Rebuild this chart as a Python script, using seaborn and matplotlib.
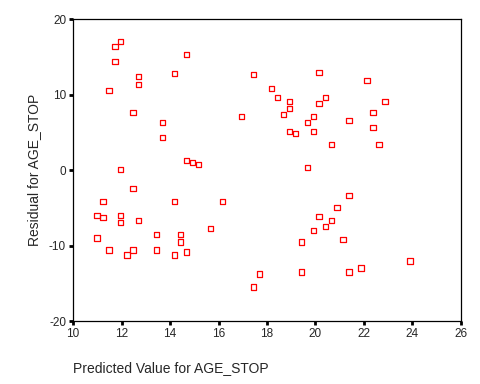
import matplotlib

matplotlib.use("Agg")

import matplotlib.pyplot as plt
import pandas as pd
import seaborn as sns

# predicted values and residuals
predicted = [
    11.73, 11.97, 11.73, 12.71, 12.71, 11.48, 14.19, 14.69, 12.47, 13.70,
    13.70, 14.69, 14.93, 15.18, 11.97, 12.47, 11.23, 14.19, 10.99, 11.23,
    11.97, 11.97, 12.71, 15.67, 10.99, 13.45, 14.44, 14.44, 11.48, 12.47,
    13.45, 14.69, 12.22, 14.19,
    17.44, 20.15, 18.18, 18.43, 18.92, 20.40, 20.15, 18.92, 18.67, 16.95,
    19.91, 19.66, 18.92, 19.17, 19.91, 20.65, 19.66, 22.12, 22.86, 22.37,
    21.38, 22.37, 22.62, 16.17, 20.15, 20.89, 20.65, 20.40, 19.91, 19.41,
    19.41, 17.69, 17.44, 21.38, 21.14, 23.89, 21.88, 21.38,
]
residual = [
    16.39, 17.05, 14.40, 12.40, 11.34, 10.54, 12.80, 15.33, 7.62, 6.29,
    4.30, 1.25, 0.98, 0.72, 0.05, -2.47, -4.20, -4.20, -6.06, -6.32,
    -6.06, -6.99, -6.72, -7.78, -8.98, -8.58, -8.58, -9.51, -10.57, -10.57,
    -10.57, -10.84, -11.24, -11.24,
    12.67, 12.93, 10.81, 9.61, 9.08, 9.61, 8.82, 8.15, 7.36, 7.09,
    7.09, 6.29, 5.10, 4.83, 5.10, 3.37, 0.32, 11.87, 9.08, 7.62,
    6.56, 5.63, 3.37, -4.20, -6.19, -4.99, -6.72, -7.52, -8.05, -9.51,
    -13.49, -13.76, -15.48, -3.40, -9.24, -12.03, -12.96, -13.49,
]

x_ticks = [10, 12, 14, 16, 18, 20, 22, 24, 26]
y_ticks = [-20, -10, 0, 10, 20]

df = pd.DataFrame({"predicted": predicted, "residual": residual})

sns.set_style("white")
plt.rcParams["font.family"] = ["Liberation Sans", "DejaVu Sans"]
plt.rcParams["axes.unicode_minus"] = False

fig = plt.figure(figsize=(4.8, 3.84), dpi=100)
ax = fig.add_axes([0.1521, 0.164, 0.8083, 0.7865])

sns.scatterplot(
    data=df,
    x="predicted",
    y="residual",
    marker="s",
    s=15,
    facecolor="none",
    edgecolor="#ff0000",
    linewidth=0.9,
    ax=ax,
)

ax.set_xlim(10, 26)
ax.set_ylim(-20, 20)
ax.set_xticks(x_ticks)
ax.set_yticks(y_ticks)
ax.tick_params(axis="both", direction="out", length=3, width=2,
               color="black", labelsize=8.5, pad=2,
               bottom=True, left=True)

for spine in ax.spines.values():
    spine.set_visible(True)
    spine.set_color("black")
    spine.set_linewidth(0.9)

ax.set_xlabel("Predicted Value for AGE_STOP", fontsize=10, loc="left", labelpad=15)
ax.set_ylabel("Residual for AGE_STOP", fontsize=10, labelpad=6)

fig.savefig("out.png", dpi=100, facecolor="white")
